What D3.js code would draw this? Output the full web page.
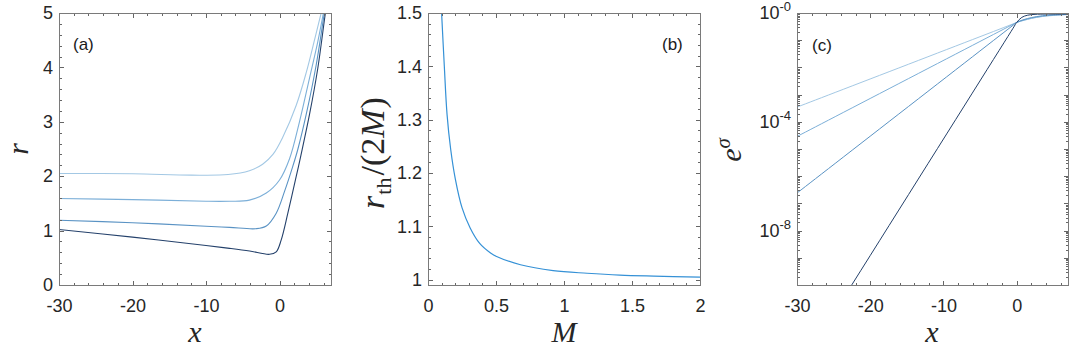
<!DOCTYPE html>
<html>
<head>
<meta charset="utf-8">
<script src="https://cdn.jsdelivr.net/npm/d3@7"></script>
<style>
body { margin: 0; background: #fff; }
</style>
</head>
<body>
<div id="chart"></div>
<script>
// ---- panel (a): r against x, four curves from light to dark ----
const a1x = [-30, -20, -12, -7, -4.1, -2.3, -0.9, 0.45, 2.26, 3.62, 4.75, 5.66, 6.1];
const a1r = [2.05, 2.045, 2.02, 2.03, 2.10, 2.22, 2.40, 2.72, 3.30, 3.90, 4.50, 5.0, 5.25];
const a2x = [-30, -20, -10, -6.8, -4.1, -1.8, 0, 1.36, 2.71, 4.07, 5.2, 5.97, 6.4];
const a2r = [1.59, 1.57, 1.54, 1.54, 1.56, 1.69, 1.93, 2.32, 3.0, 3.80, 4.47, 5.0, 5.3];
const a3x = [-30, -20, -10, -6.8, -3.2, -1.8, -0.45, 0.68, 1.8, 2.5, 3.62, 4.98, 6.1, 6.5];
const a3r = [1.19, 1.145, 1.08, 1.06, 1.035, 1.085, 1.32, 1.72, 2.18, 2.5, 3.13, 4.04, 5.0, 5.3];
const a4x = [-30, -20, -10, -6.8, -4.07, -1.36, -0.45, 0.23, 1.13, 2.26, 2.9, 4.07, 5.2, 6.24, 6.6];
const a4r = [1.02, 0.88, 0.725, 0.674, 0.625, 0.564, 0.61, 0.83, 1.32, 1.99, 2.38, 3.13, 3.98, 5.0, 5.3];

// ---- panel (b): r_th/(2M) against M ----
const bM = [0.10, 0.12, 0.14, 0.167, 0.20, 0.25, 0.31, 0.38, 0.46, 0.50, 0.68, 0.92, 1.17, 1.41, 1.66, 2.0];
const bRatio = [1.50, 1.40, 1.31, 1.244, 1.19, 1.135, 1.097, 1.068, 1.050, 1.044, 1.028, 1.017, 1.012, 1.0085, 1.0066, 1.0047];

// ---- panel (c): log10(e^sigma) against x ----
const c1x = [-30, -0.5, 0, 1, 2, 3.5, 5, 7];
const c1lg = [-3.46, -0.40, -0.345, -0.27, -0.20, -0.13, -0.09, -0.06];
const c2x = [-30, -0.5, 0, 1, 2, 3.5, 5, 7];
const c2lg = [-4.54, -0.415, -0.345, -0.26, -0.19, -0.12, -0.08, -0.05];
const c3x = [-30, -0.5, 0, 1, 2, 3.5, 5, 7];
const c3lg = [-6.62, -0.45, -0.345, -0.24, -0.17, -0.10, -0.07, -0.05];
const c4x = [-30, -0.5, 0, 0.7, 1.5, 2.5, 4, 7];
const c4lg = [-13.2, -0.56, -0.345, -0.16, -0.08, -0.05, -0.04, -0.04];

const shades = ["#a3c8e4", "#7cafd8", "#5a93c4", "#24416b"];
const bColor = "#3591d6";

// ticks
const xTicksA = [-30, -20, -10, 0];
const yTicksA = [0, 1, 2, 3, 4, 5];
const xTicksB = [0, 0.5, 1, 1.5, 2];
const yTicksB = [1, 1.1, 1.2, 1.3, 1.4, 1.5];
const yLabelExp = [0, -4, -8];

const W = 1080, H = 351;
const T = 13, B = 285;

const svg = d3.select("#chart").append("svg")
  .attr("width", W)
  .attr("height", H);

const AX = { bottom: d3.axisBottom, top: d3.axisTop, left: d3.axisLeft, right: d3.axisRight };

function ticks(g, side, scale, pos, values, size, fmt, pad) {
  const horiz = side === "bottom" || side === "top";
  const ax = AX[side](scale).tickValues(values).tickSize(-size)
    .tickFormat(fmt || (() => "")).tickPadding(pad || 0);
  return g.append("g")
    .attr("transform", horiz ? `translate(0,${pos})` : `translate(${pos},0)`)
    .call(ax)
    .attr("font-family", "Liberation Sans, Arial, sans-serif")
    .attr("font-size", 18)
    .attr("color", "#262626")
    .call(s => s.select(".domain").remove())
    .call(s => s.selectAll(".tick line").attr("stroke", "#666").attr("shape-rendering", "crispEdges"));
}

function frame(g, x, y, xMaj, xMin, yMaj, yMin, xFmt, yFmt) {
  const [xl, xr] = x.range(), [yb, yt] = y.range();
  ticks(g, "bottom", x, yb, xMin, 2.5);
  ticks(g, "top", x, yt, xMin, 2.5);
  ticks(g, "left", y, xl, yMin, 2.5);
  ticks(g, "right", y, xr, yMin, 2.5);
  ticks(g, "top", x, yt, xMaj, 4.5);
  ticks(g, "right", y, xr, yMaj, 4.5);
  ticks(g, "bottom", x, yb, xMaj, 4.5, xFmt, 14);
  const left = ticks(g, "left", y, xl, yMaj, 4.5, yFmt, 6);
  g.append("rect")
    .attr("x", xl + 0.5).attr("y", yt + 0.5)
    .attr("width", xr - xl).attr("height", yb - yt)
    .attr("fill", "none")
    .attr("stroke", "#7a7a7a")
    .attr("shape-rendering", "crispEdges");
  return left;
}

function clipped(g, id, x, y) {
  const [xl, xr] = x.range(), [yb, yt] = y.range();
  svg.append("clipPath").attr("id", id)
    .append("rect").attr("x", xl).attr("y", yt).attr("width", xr - xl).attr("height", yb - yt);
  return g.append("g").attr("clip-path", `url(#${id})`);
}

function serifLabel(g, x, y, rot) {
  return g.append("text")
    .attr("transform", `translate(${x},${y})` + (rot ? " rotate(-90)" : ""))
    .attr("text-anchor", "middle")
    .attr("font-family", "Liberation Serif, Times New Roman, serif")
    .attr("font-size", 30)
    .attr("fill", "#262626");
}

function panelTag(g, x, y, s) {
  g.append("text").attr("x", x).attr("y", y)
    .attr("font-family", "Liberation Sans, Arial, sans-serif")
    .attr("font-size", 17)
    .attr("fill", "#1a1a1a")
    .text(s);
}

const line = d3.line().curve(d3.curveCatmullRom.alpha(0.5));

// ===== panel (a) =====
{
  const x = d3.scaleLinear().domain([-30, 7]).range([59, 331]);
  const y = d3.scaleLinear().domain([0, 5]).range([B, T]);
  const g = svg.append("g");
  const plot = clipped(g, "clipA", x, y);
  [[a1x, a1r], [a2x, a2r], [a3x, a3r], [a4x, a4r]].forEach(([xs, rs], i) => {
    plot.append("path")
      .attr("d", line.x(d => x(d[0])).y(d => y(d[1]))(xs.map((v, j) => [v, rs[j]])))
      .attr("fill", "none")
      .attr("stroke", shades[i])
      .attr("stroke-width", 1.1);
  });
  frame(g, x, y, xTicksA, d3.range(-30, 7, 2), yTicksA, d3.range(0, 5.01, 0.2),
    d => String(d), d => String(d));
  serifLabel(g, 195, 342).attr("font-style", "italic").text("x");
  serifLabel(g, 28, 149, true).attr("font-style", "italic").text("r");
  panelTag(g, 73, 50, "(a)");
}

// ===== panel (b) =====
{
  const x = d3.scaleLinear().domain([0, 2]).range([428, 700]);
  const y = d3.scaleLinear().domain([0.99, 1.5]).range([B, T]);
  const g = svg.append("g");
  const plot = clipped(g, "clipB", x, y);
  plot.append("path")
    .attr("d", line.x(d => x(d[0])).y(d => y(d[1]))(bM.map((v, j) => [v, bRatio[j]])))
    .attr("fill", "none")
    .attr("stroke", bColor)
    .attr("stroke-width", 1.2);
  frame(g, x, y, xTicksB, d3.range(0, 2.01, 0.1), yTicksB, d3.range(1, 1.501, 0.02),
    d => String(d), d => String(d));
  serifLabel(g, 564, 342).attr("font-style", "italic").text("M");
  const t = serifLabel(g, 384, 153, true).attr("font-size", 34);
  t.append("tspan").attr("font-style", "italic").text("r");
  t.append("tspan").attr("font-size", 22).attr("dy", 7).attr("dx", 1).text("th");
  t.append("tspan").attr("dy", -7).attr("dx", 2).text("/(2");
  t.append("tspan").attr("font-style", "italic").text("M");
  t.append("tspan").attr("dx", 1).text(")");
  panelTag(g, 662, 50, "(b)");
}

// ===== panel (c) =====
{
  const x = d3.scaleLinear().domain([-30, 7]).range([797, 1068]);
  const y = d3.scaleLog().domain([1e-10, 1]).range([B, T]);
  const g = svg.append("g");
  const plot = clipped(g, "clipC", x, y);
  [[c1x, c1lg], [c2x, c2lg], [c3x, c3lg], [c4x, c4lg]].forEach(([xs, ls], i) => {
    plot.append("path")
      .attr("d", line.x(d => x(d[0])).y(d => y(Math.pow(10, d[1])))(xs.map((v, j) => [v, ls[j]])))
      .attr("fill", "none")
      .attr("stroke", shades[i])
      .attr("stroke-width", 1.0);
  });
  const decades = d3.range(-10, 1).map(e => Math.pow(10, e));
  const minors = [];
  d3.range(-10, 0).forEach(e => d3.range(2, 10).forEach(m => minors.push(m * Math.pow(10, e))));
  const left = frame(g, x, y, xTicksA, d3.range(-30, 7, 2), decades, minors,
    d => String(d), () => "x");
  left.selectAll(".tick text").each(function(d) {
    const e = Math.round(Math.log10(d));
    const t = d3.select(this).text(null);
    if (!yLabelExp.includes(e)) return;
    t.append("tspan").text("10");
    t.append("tspan").attr("dy", "-0.6em").attr("font-size", 13).text("-" + Math.abs(e));
  });
  serifLabel(g, 932, 342).attr("font-style", "italic").text("x");
  const t = serifLabel(g, 741, 150, true);
  t.append("tspan").attr("font-style", "italic").text("e");
  t.append("tspan").attr("font-style", "italic").attr("font-size", 21).attr("dy", -11).text("σ");
  panelTag(g, 812, 51, "(c)");
}
</script>
</body>
</html>
